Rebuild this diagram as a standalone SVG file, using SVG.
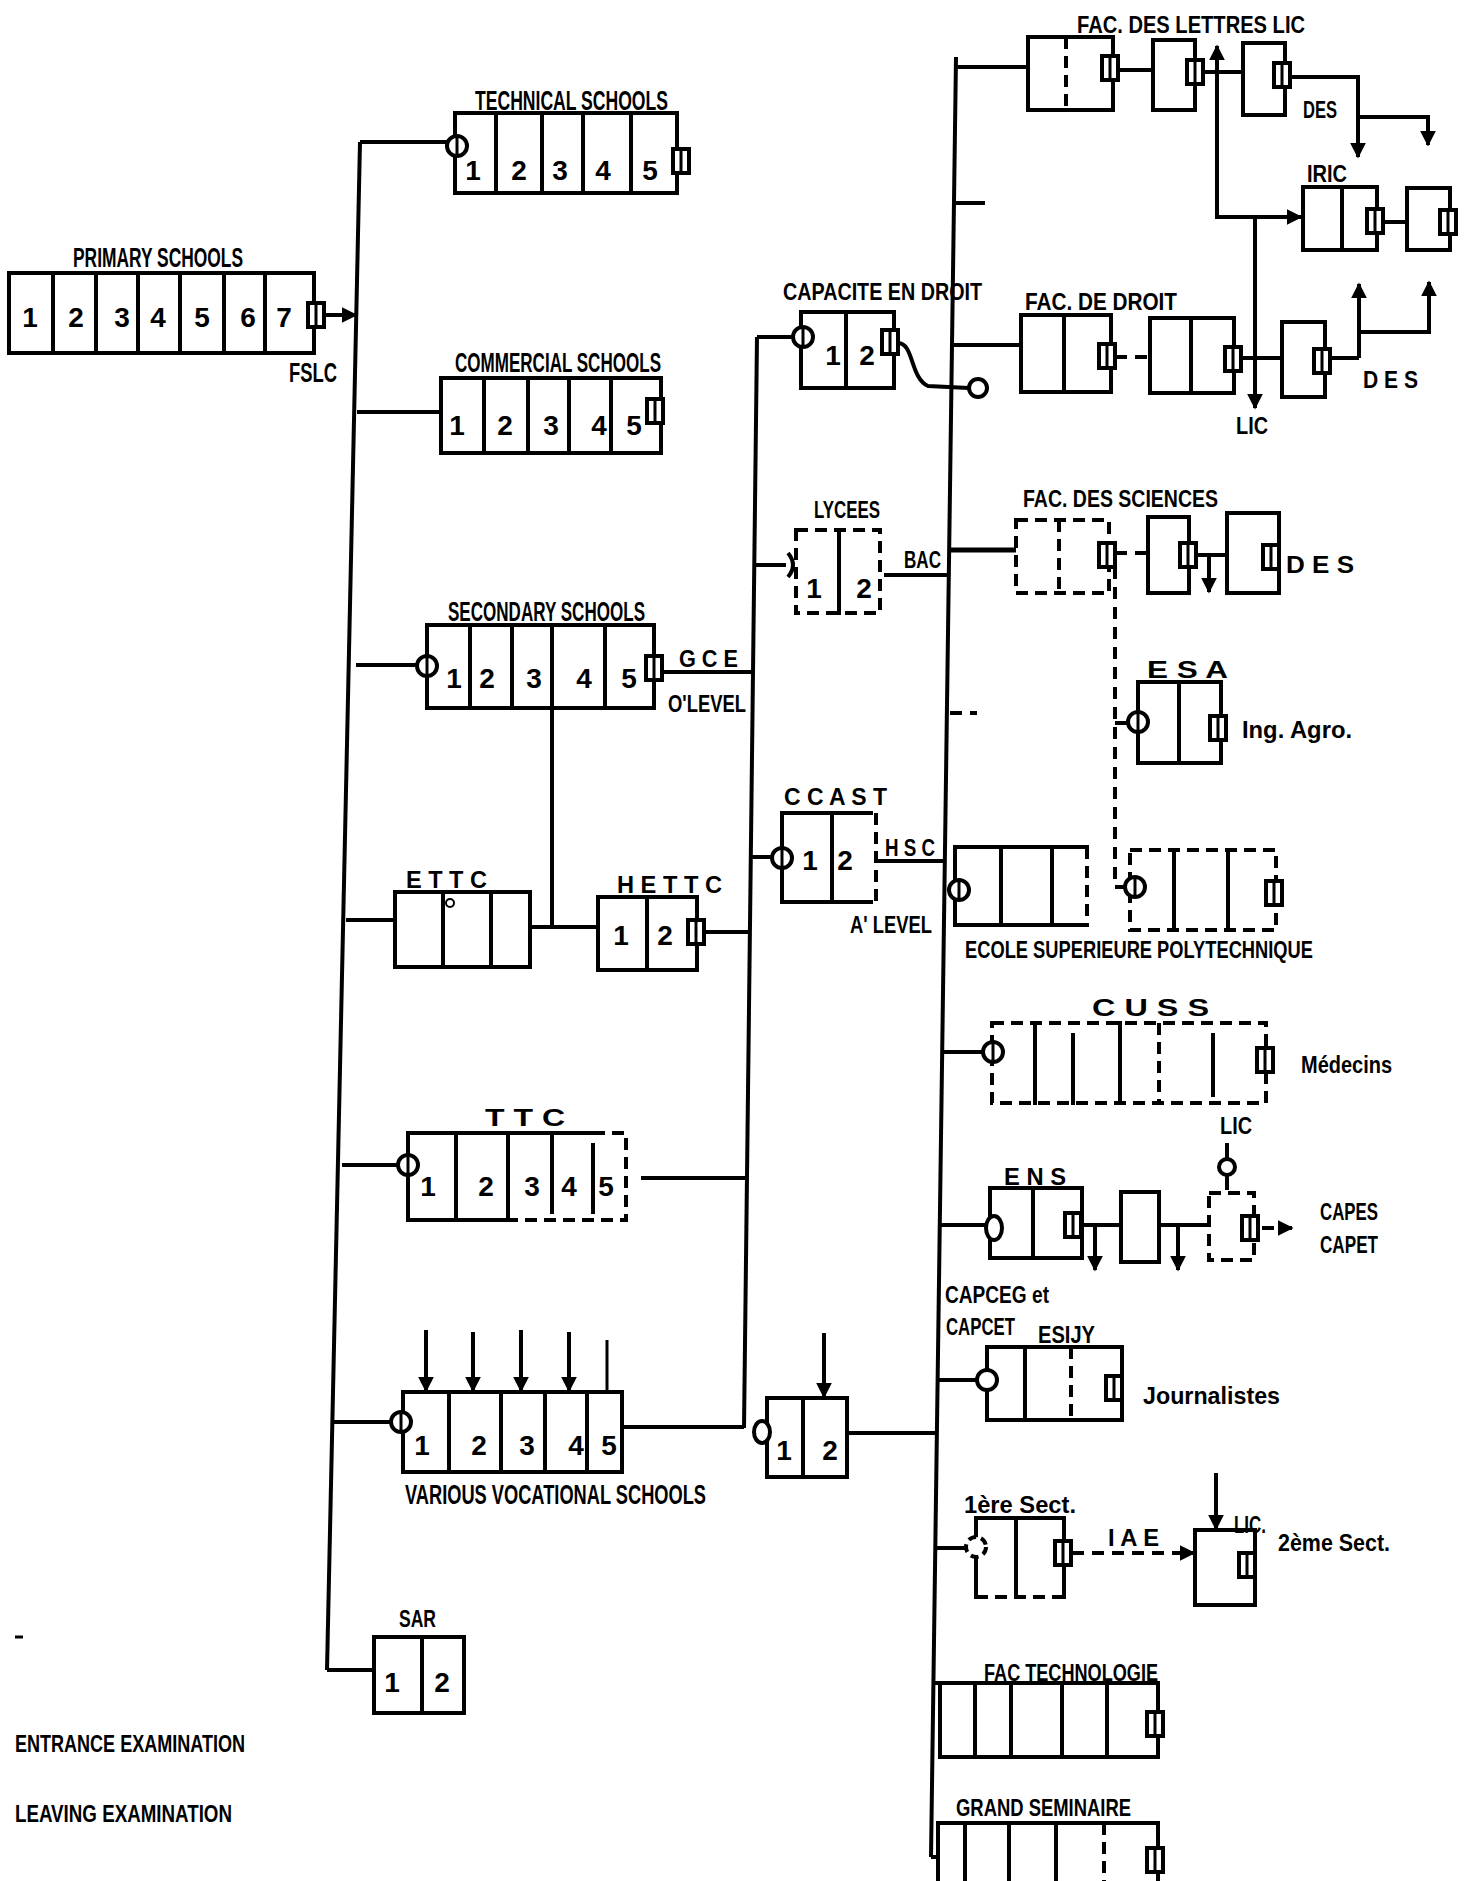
<svg xmlns="http://www.w3.org/2000/svg" xmlns:xlink="http://www.w3.org/1999/xlink" width="1471" height="1881" viewBox="0 0 1471 1881">
<style>
.b{fill:none;stroke:#000;stroke-width:4;stroke-linecap:square}
.d{fill:none;stroke:#000;stroke-width:4;stroke-dasharray:12 7}
.c{fill:none;stroke:#000;stroke-width:4}
.cd{fill:none;stroke:#000;stroke-width:4;stroke-dasharray:12 8}
.t{font-family:"Liberation Sans",Arial,sans-serif;font-weight:bold;font-size:27px;fill:#000}
.s{font-family:"Liberation Sans",Arial,sans-serif;font-weight:bold;font-size:23px;fill:#000}
.n{font-family:"Liberation Sans",Arial,sans-serif;font-weight:bold;font-size:28px;fill:#000;text-anchor:middle}
</style>
<defs>
<g id="ent"><circle r="10" fill="#fff" stroke="#000" stroke-width="4"/><line x1="0" y1="-10" x2="0" y2="10" stroke="#000" stroke-width="3"/></g>
<g id="ex"><rect x="-8" y="-12" width="16" height="24" fill="#fff" stroke="#000" stroke-width="4"/><line x1="0" y1="-12" x2="0" y2="12" stroke="#000" stroke-width="3"/></g>
<marker id="ah" markerUnits="userSpaceOnUse" markerWidth="16" markerHeight="16" viewBox="0 0 10 10" refX="9" refY="5" orient="auto"><path d="M0,0 L10,5 L0,10 z" fill="#000"/></marker>
</defs>
<rect width="1471" height="1881" fill="#fff"/>

<g id="connectors">
<polyline class="c" points="360,142 327,1670"/>
<polyline class="c" points="757,337 744,1428"/>
<polyline class="c" points="956,57 931,1857"/>
<line class="c" x1="360" y1="142" x2="447" y2="142"/>
<line class="c" x1="326" y1="315" x2="356" y2="315" marker-end="url(#ah)"/>
<line class="c" x1="357" y1="412" x2="441" y2="412"/>
<line class="c" x1="356" y1="665" x2="417" y2="665"/>
<line class="c" x1="662" y1="672" x2="754" y2="672"/>
<line class="c" x1="552" y1="708" x2="552" y2="927"/>
<line class="c" x1="346" y1="920" x2="395" y2="920"/>
<line class="c" x1="530" y1="927" x2="598" y2="927"/>
<line class="c" x1="706" y1="932" x2="750" y2="932"/>
<line class="c" x1="342" y1="1165" x2="398" y2="1165"/>
<line class="c" x1="641" y1="1178" x2="747" y2="1178"/>
<line class="c" x1="334" y1="1422" x2="391" y2="1422"/>
<line class="c" x1="622" y1="1427" x2="744" y2="1427"/>
<line class="c" x1="847" y1="1433" x2="935" y2="1433"/>
<line class="c" x1="327" y1="1670" x2="374" y2="1670"/>
<line class="c" x1="757" y1="337" x2="793" y2="337"/>
<path class="c" d="M898,343 C914,343 910,378 928,386 L969,388"/>
<line class="c" x1="755" y1="565" x2="786" y2="565"/>
<line class="c" x1="884" y1="575" x2="950" y2="575"/>
<line class="c" x1="752" y1="857" x2="772" y2="857"/>
<line class="c" x1="876" y1="861" x2="945" y2="861"/>
<line class="c" x1="956" y1="67" x2="1028" y2="67"/>
<line class="c" x1="1118" y1="70" x2="1153" y2="70"/>
<line class="c" x1="1203" y1="72" x2="1243" y2="72"/>
<line class="c" x1="1217" y1="72" x2="1217" y2="46" marker-end="url(#ah)"/>
<polyline class="c" points="1217,72 1217,217 1301,217" marker-end="url(#ah)"/>
<polyline class="c" points="1290,77 1358,77 1358,157" marker-end="url(#ah)"/>
<polyline class="c" points="1358,117 1428,117 1428,145" marker-end="url(#ah)"/>
<line class="c" x1="1383" y1="222" x2="1407" y2="222"/>
<line class="c" x1="955" y1="203" x2="985" y2="203"/>
<line class="c" x1="953" y1="345" x2="1021" y2="345"/>
<line class="cd" x1="1115" y1="357" x2="1150" y2="357"/>
<line class="c" x1="1241" y1="358" x2="1282" y2="358"/>
<line class="c" x1="1255" y1="217" x2="1255" y2="408" marker-end="url(#ah)"/>
<line class="c" x1="1330" y1="358" x2="1359" y2="358"/>
<polyline class="c" points="1359,358 1359,284" marker-end="url(#ah)"/>
<polyline class="c" points="1359,332 1429,332 1429,282" marker-end="url(#ah)"/>
<line class="c" x1="951" y1="550" x2="1016" y2="550" style="stroke-width:5"/>
<line class="cd" x1="1115" y1="553" x2="1148" y2="553"/>
<line class="c" x1="1196" y1="555" x2="1227" y2="555"/>
<line class="c" x1="1209" y1="555" x2="1209" y2="592" marker-end="url(#ah)"/>
<polyline class="cd" points="1115,567 1115,887 1127,887"/>
<line class="c" x1="1115" y1="723" x2="1130" y2="723"/>
<line class="cd" x1="950" y1="713" x2="977" y2="713"/>
<line class="c" x1="942" y1="1052" x2="985" y2="1052"/>
<line class="c" x1="940" y1="1225" x2="986" y2="1225"/>
<line class="c" x1="1078" y1="1225" x2="1121" y2="1225"/>
<line class="c" x1="1095" y1="1225" x2="1095" y2="1270" marker-end="url(#ah)"/>
<line class="c" x1="1159" y1="1225" x2="1209" y2="1225"/>
<line class="c" x1="1178" y1="1225" x2="1178" y2="1270" marker-end="url(#ah)"/>
<line class="c" x1="1227" y1="1143" x2="1227" y2="1190"/>
<line class="cd" x1="1262" y1="1228" x2="1292" y2="1228" marker-end="url(#ah)"/>
<line class="c" x1="936" y1="1380" x2="977" y2="1380"/>
<line class="c" x1="936" y1="1548" x2="966" y2="1548"/>
<line class="cd" x1="1072" y1="1553" x2="1194" y2="1553" marker-end="url(#ah)"/>
<line class="c" x1="1216" y1="1473" x2="1216" y2="1529" marker-end="url(#ah)"/>
<line class="c" x1="932" y1="1683" x2="954" y2="1683"/>
<line class="c" x1="931" y1="1857" x2="938" y2="1857"/>
<line class="c" x1="426" y1="1330" x2="426" y2="1391" marker-end="url(#ah)"/>
<line class="c" x1="473" y1="1332" x2="473" y2="1391" marker-end="url(#ah)"/>
<line class="c" x1="521" y1="1330" x2="521" y2="1391" marker-end="url(#ah)"/>
<line class="c" x1="569" y1="1332" x2="569" y2="1391" marker-end="url(#ah)"/>
<line class="c" x1="607" y1="1340" x2="607" y2="1391" style="stroke-width:3"/>
<line class="c" x1="824" y1="1333" x2="824" y2="1397" marker-end="url(#ah)"/>
</g>

<g id="primary-schools">
<rect class="b" x="9" y="273" width="305" height="80"/>
<path class="b" d="M53,273V353M96,273V353M138,273V353M180,273V353M224,273V353M265,273V353"/>
<text class="n" x="30" y="327">1</text><text class="n" x="76" y="327">2</text><text class="n" x="122" y="327">3</text><text class="n" x="158" y="327">4</text><text class="n" x="202" y="327">5</text><text class="n" x="248" y="327">6</text><text class="n" x="284" y="327">7</text>
<use href="#ex" x="316" y="315"/>
<text class="t" x="73" y="267" textLength="170" lengthAdjust="spacingAndGlyphs">PRIMARY SCHOOLS</text>
<text class="t" x="289" y="382" textLength="48" lengthAdjust="spacingAndGlyphs">FSLC</text>
</g>

<g id="technical-schools">
<rect class="b" x="455" y="113" width="222" height="80"/>
<path class="b" d="M496,113V193M542,113V193M583,113V193M631,113V193"/>
<text class="n" x="473" y="180">1</text><text class="n" x="519" y="180">2</text><text class="n" x="560" y="180">3</text><text class="n" x="603" y="180">4</text><text class="n" x="650" y="180">5</text>
<use href="#ent" x="457" y="146"/>
<use href="#ex" x="681" y="161"/>
<text class="t" x="475" y="110" textLength="193" lengthAdjust="spacingAndGlyphs">TECHNICAL SCHOOLS</text>
</g>

<g id="commercial-schools">
<rect class="b" x="441" y="378" width="220" height="75"/>
<path class="b" d="M484,378V453M528,378V453M569,378V453M611,378V453"/>
<text class="n" x="457" y="435">1</text><text class="n" x="505" y="435">2</text><text class="n" x="551" y="435">3</text><text class="n" x="599" y="435">4</text><text class="n" x="634" y="435">5</text>
<use href="#ex" x="655" y="411"/>
<text class="t" x="455" y="372" textLength="206" lengthAdjust="spacingAndGlyphs">COMMERCIAL SCHOOLS</text>
</g>

<g id="secondary-schools">
<rect class="b" x="427" y="625" width="227" height="83"/>
<path class="b" d="M470,625V708M512,625V708M552,625V708M605,625V708"/>
<text class="n" x="454" y="688">1</text><text class="n" x="487" y="688">2</text><text class="n" x="534" y="688">3</text><text class="n" x="584" y="688">4</text><text class="n" x="629" y="688">5</text>
<use href="#ent" x="427" y="666"/>
<use href="#ex" x="654" y="668"/>
<text class="t" x="448" y="621" textLength="197" lengthAdjust="spacingAndGlyphs">SECONDARY SCHOOLS</text>
<text class="s" x="679" y="667" textLength="59" lengthAdjust="spacingAndGlyphs">G C E</text>
<text class="s" x="668" y="712" textLength="78" lengthAdjust="spacingAndGlyphs">O'LEVEL</text>
</g>

<g id="ettc">
<rect class="b" x="395" y="892" width="135" height="75"/>
<path class="b" d="M443,892V967M491,892V967"/>
<circle cx="450" cy="903" r="4" fill="none" stroke="#000" stroke-width="2"/>
<text class="s" x="406" y="888" textLength="81" lengthAdjust="spacingAndGlyphs">E T T C</text>
</g>

<g id="hettc">
<rect class="b" x="598" y="897" width="99" height="73"/>
<path class="b" d="M647,897V970"/>
<text class="n" x="621" y="945">1</text><text class="n" x="665" y="945">2</text>
<use href="#ex" x="696" y="932"/>
<text class="s" x="617" y="893" textLength="105" lengthAdjust="spacingAndGlyphs">H E T T C</text>
</g>

<g id="ttc">
<path class="b" d="M593,1133H408V1220H508"/>
<path class="d" d="M593,1133H626V1220H508"/>
<path class="b" d="M456,1133V1220M508,1133V1220M552,1133V1212M593,1145V1212"/>
<text class="n" x="428" y="1196">1</text><text class="n" x="486" y="1196">2</text><text class="n" x="532" y="1196">3</text><text class="n" x="569" y="1196">4</text><text class="n" x="606" y="1196">5</text>
<use href="#ent" x="408" y="1165"/>
<text class="s" x="485" y="1126" textLength="80" lengthAdjust="spacingAndGlyphs">T T C</text>
</g>

<g id="vocational-schools">
<rect class="b" x="403" y="1392" width="219" height="80"/>
<path class="b" d="M449,1392V1472M501,1392V1472M545,1392V1472M587,1392V1472"/>
<text class="n" x="422" y="1455">1</text><text class="n" x="479" y="1455">2</text><text class="n" x="527" y="1455">3</text><text class="n" x="576" y="1455">4</text><text class="n" x="609" y="1455">5</text>
<use href="#ent" x="401" y="1422"/>
<text class="t" x="405" y="1504" textLength="301" lengthAdjust="spacingAndGlyphs">VARIOUS VOCATIONAL SCHOOLS</text>
</g>

<g id="post-vocational">
<rect class="b" x="767" y="1398" width="80" height="79"/>
<path class="b" d="M803,1398V1477"/>
<text class="n" x="784" y="1460">1</text><text class="n" x="830" y="1460">2</text>
<ellipse cx="762" cy="1432" rx="8" ry="11" fill="#fff" stroke="#000" stroke-width="4"/>
</g>

<g id="sar">
<rect class="b" x="374" y="1637" width="90" height="76"/>
<path class="b" d="M422,1637V1713"/>
<text class="n" x="392" y="1692">1</text><text class="n" x="442" y="1692">2</text>
<text class="s" x="399" y="1627" textLength="37" lengthAdjust="spacingAndGlyphs">SAR</text>
</g>

<g id="capacite-en-droit">
<rect class="b" x="801" y="312" width="93" height="76"/>
<path class="b" d="M846,312V388"/>
<text class="n" x="833" y="365">1</text><text class="n" x="867" y="365">2</text>
<use href="#ent" x="803" y="337"/>
<use href="#ex" x="890" y="342"/>
<circle cx="978" cy="388" r="9" fill="#fff" stroke="#000" stroke-width="4"/>
<text class="s" x="783" y="300" textLength="199" lengthAdjust="spacingAndGlyphs">CAPACITE EN DROIT</text>
</g>

<g id="lycees">
<rect class="d" x="796" y="530" width="84" height="83"/>
<path class="b" d="M839,530V613"/>
<text class="n" x="814" y="598">1</text><text class="n" x="864" y="598">2</text>
<path class="c" d="M788,553 Q798,565 788,577"/>
<text class="s" x="814" y="518" textLength="66" lengthAdjust="spacingAndGlyphs">LYCEES</text>
<text class="s" x="904" y="568" textLength="37" lengthAdjust="spacingAndGlyphs">BAC</text>
</g>

<g id="ccast">
<path class="b" d="M871,813H782V902H871"/>
<path class="d" d="M876,813V902"/>
<path class="b" d="M832,813V902"/>
<text class="n" x="810" y="870">1</text><text class="n" x="845" y="870">2</text>
<use href="#ent" x="782" y="858"/>
<text class="s" x="784" y="805" textLength="103" lengthAdjust="spacingAndGlyphs">C C A S T</text>
<text class="s" x="885" y="856" textLength="50" lengthAdjust="spacingAndGlyphs">H S C</text>
<text class="s" x="850" y="933" textLength="82" lengthAdjust="spacingAndGlyphs">A' LEVEL</text>
</g>

<g id="fac-lettres">
<rect class="b" x="1028" y="37" width="85" height="73"/>
<path class="d" d="M1066,37V110"/>
<use href="#ex" x="1110" y="68"/>
<rect class="b" x="1153" y="40" width="42" height="70"/>
<use href="#ex" x="1195" y="72"/>
<rect class="b" x="1243" y="43" width="42" height="72"/>
<use href="#ex" x="1282" y="75"/>
<text class="s" x="1077" y="33" textLength="228" lengthAdjust="spacingAndGlyphs">FAC. DES LETTRES LIC</text>
<text class="s" x="1303" y="118" textLength="34" lengthAdjust="spacingAndGlyphs">DES</text>
</g>

<g id="iric">
<rect class="b" x="1303" y="187" width="74" height="63"/>
<path class="b" d="M1342,187V250"/>
<use href="#ex" x="1375" y="221"/>
<rect class="b" x="1407" y="188" width="43" height="62"/>
<use href="#ex" x="1448" y="222"/>
<text class="s" x="1307" y="182" textLength="40" lengthAdjust="spacingAndGlyphs">IRIC</text>
</g>

<g id="fac-droit">
<rect class="b" x="1021" y="315" width="90" height="77"/>
<path class="b" d="M1064,315V392"/>
<use href="#ex" x="1107" y="356"/>
<rect class="b" x="1150" y="318" width="84" height="75"/>
<path class="b" d="M1191,318V393"/>
<use href="#ex" x="1233" y="359"/>
<rect class="b" x="1282" y="322" width="43" height="75"/>
<use href="#ex" x="1322" y="361"/>
<text class="s" x="1025" y="310" textLength="152" lengthAdjust="spacingAndGlyphs">FAC. DE DROIT</text>
<text class="s" x="1236" y="434" textLength="32" lengthAdjust="spacingAndGlyphs">LIC</text>
<text class="s" x="1363" y="388" textLength="55" lengthAdjust="spacingAndGlyphs">D E S</text>
</g>

<g id="fac-sciences">
<rect class="d" x="1016" y="520" width="93" height="73"/>
<path class="d" d="M1059,520V593"/>
<use href="#ex" x="1107" y="555"/>
<rect class="b" x="1148" y="517" width="41" height="76"/>
<use href="#ex" x="1188" y="555"/>
<rect class="b" x="1227" y="513" width="52" height="80"/>
<use href="#ex" x="1271" y="557"/>
<text class="s" x="1023" y="507" textLength="195" lengthAdjust="spacingAndGlyphs">FAC. DES SCIENCES</text>
<text class="s" x="1286" y="573" textLength="68" lengthAdjust="spacingAndGlyphs">D E S</text>
</g>

<g id="esa">
<rect class="b" x="1138" y="682" width="83" height="81"/>
<path class="b" d="M1179,682V763"/>
<use href="#ent" x="1138" y="722"/>
<use href="#ex" x="1218" y="728"/>
<text class="s" x="1147" y="678" textLength="81" lengthAdjust="spacingAndGlyphs">E S A</text>
<text class="s" x="1242" y="738" textLength="110" lengthAdjust="spacingAndGlyphs">Ing. Agro.</text>
</g>

<g id="ecole-polytechnique">
<path class="b" d="M1087,847H955V925H1087"/>
<path class="d" d="M1087,847V925"/>
<path class="b" d="M1001,847V925M1052,847V925"/>
<use href="#ent" x="959" y="890"/>
<path class="d" d="M1130,850H1276V930H1130Z"/>
<path class="b" d="M1174,850V930M1228,850V930"/>
<use href="#ent" x="1135" y="887"/>
<use href="#ex" x="1274" y="893"/>
<text class="s" x="965" y="958" textLength="348" lengthAdjust="spacingAndGlyphs">ECOLE SUPERIEURE POLYTECHNIQUE</text>
</g>

<g id="cuss">
<rect class="d" x="992" y="1023" width="274" height="80"/>
<path class="b" d="M1035,1023V1103M1073,1035V1103M1120,1023V1103M1213,1035V1095"/>
<path class="d" d="M1159,1023V1103"/>
<use href="#ent" x="993" y="1052"/>
<use href="#ex" x="1265" y="1060"/>
<text class="s" x="1092" y="1016" textLength="117" lengthAdjust="spacingAndGlyphs">C U S S</text>
<text class="s" x="1301" y="1073" textLength="91" lengthAdjust="spacingAndGlyphs">Médecins</text>
<text class="s" x="1220" y="1134" textLength="32" lengthAdjust="spacingAndGlyphs">LIC</text>
</g>

<g id="ens">
<rect class="b" x="990" y="1188" width="92" height="70"/>
<path class="b" d="M1033,1188V1258"/>
<ellipse cx="994" cy="1228" rx="8" ry="12" fill="#fff" stroke="#000" stroke-width="4"/>
<use href="#ex" x="1073" y="1225"/>
<rect class="b" x="1121" y="1192" width="38" height="70"/>
<rect class="d" x="1209" y="1193" width="45" height="67"/>
<use href="#ex" x="1250" y="1228"/>
<circle cx="1227" cy="1167" r="8" fill="#fff" stroke="#000" stroke-width="4"/>
<text class="s" x="1004" y="1185" textLength="62" lengthAdjust="spacingAndGlyphs">E N S</text>
<text class="s" x="1320" y="1220" textLength="58" lengthAdjust="spacingAndGlyphs">CAPES</text>
<text class="s" x="1320" y="1253" textLength="58" lengthAdjust="spacingAndGlyphs">CAPET</text>
<text class="s" x="945" y="1303" textLength="104" lengthAdjust="spacingAndGlyphs">CAPCEG et</text>
<text class="s" x="946" y="1335" textLength="69" lengthAdjust="spacingAndGlyphs">CAPCET</text>
</g>

<g id="esijy">
<rect class="b" x="987" y="1347" width="135" height="73"/>
<path class="b" d="M1025,1347V1420"/>
<path class="d" d="M1071,1347V1420"/>
<circle cx="987" cy="1380" r="10" fill="#fff" stroke="#000" stroke-width="4"/>
<use href="#ex" x="1114" y="1388"/>
<text class="s" x="1038" y="1343" textLength="57" lengthAdjust="spacingAndGlyphs">ESIJY</text>
<text class="s" x="1143" y="1404" textLength="137" lengthAdjust="spacingAndGlyphs">Journalistes</text>
</g>

<g id="iae">
<path class="b" d="M976,1597V1518H1064V1597"/>
<path class="d" d="M976,1597H1064"/>
<path class="b" d="M1016,1518V1597"/>
<circle cx="976" cy="1547" r="10" fill="#fff" stroke="#000" stroke-width="4" stroke-dasharray="8 5"/>
<use href="#ex" x="1063" y="1553"/>
<rect class="b" x="1195" y="1530" width="60" height="75"/>
<use href="#ex" x="1247" y="1565"/>
<text class="s" x="964" y="1513" textLength="112" lengthAdjust="spacingAndGlyphs">1ère Sect.</text>
<text class="s" x="1108" y="1546" textLength="51" lengthAdjust="spacingAndGlyphs">I A E</text>
<text class="s" x="1234" y="1533" textLength="32" lengthAdjust="spacingAndGlyphs">LIC.</text>
<text class="s" x="1278" y="1551" textLength="112" lengthAdjust="spacingAndGlyphs">2ème Sect.</text>
</g>

<g id="fac-technologie">
<rect class="b" x="940" y="1683" width="218" height="74"/>
<path class="b" d="M975,1683V1757M1011,1683V1757M1062,1683V1757M1107,1683V1757"/>
<use href="#ex" x="1155" y="1724"/>
<text class="s" x="984" y="1681" textLength="174" lengthAdjust="spacingAndGlyphs">FAC TECHNOLOGIE</text>
</g>

<g id="grand-seminaire">
<rect class="b" x="938" y="1823" width="220" height="70"/>
<path class="b" d="M965,1823V1881M1009,1823V1881M1056,1823V1881"/>
<path class="d" d="M1104,1823V1881"/>
<use href="#ex" x="1155" y="1860"/>
<text class="s" x="956" y="1816" textLength="175" lengthAdjust="spacingAndGlyphs">GRAND SEMINAIRE</text>
</g>

<g id="legend">
<line x1="15" y1="1637" x2="23" y2="1637" stroke="#000" stroke-width="3"/>
<text class="s" x="15" y="1752" textLength="230" lengthAdjust="spacingAndGlyphs">ENTRANCE EXAMINATION</text>
<text class="s" x="15" y="1822" textLength="217" lengthAdjust="spacingAndGlyphs">LEAVING EXAMINATION</text>
</g>
</svg>
